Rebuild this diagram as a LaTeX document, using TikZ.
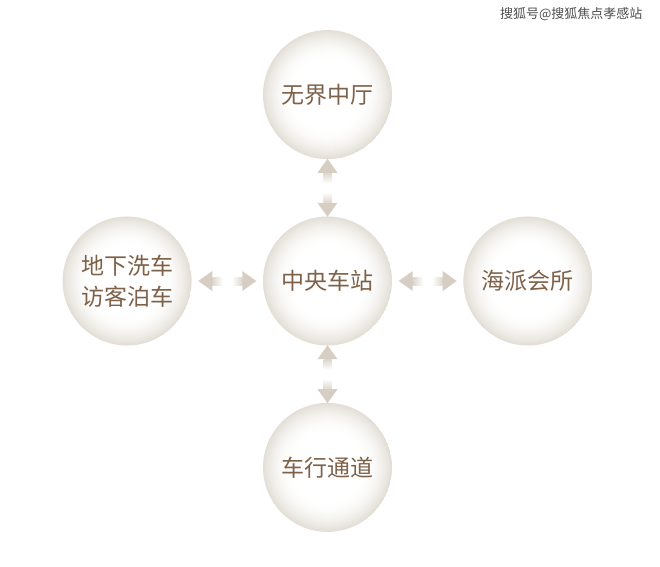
\documentclass[tikz,border=0pt]{standalone}
\usepackage{fontspec}
\newfontfamily\cjk{Noto Sans CJK SC}
\usetikzlibrary{positioning,calc}

\definecolor{ballrim}{HTML}{E3DED6}
\definecolor{arrowtan}{HTML}{D6CEC3}
\definecolor{textbrown}{HTML}{7E6149}
\definecolor{marktext}{HTML}{4D4D4D}

% half arrow from the gap middle #1 towards node border #2, shading angle #3
\newcommand{\fadearrow}[3]{%
  \coordinate (fa-t) at ($(#1)!4.5pt!(#2)$);
  \coordinate (fa-h) at ($(#1)!15pt!(#2)$);
  \coordinate (fa-p) at ($(#1)!29pt!(#2)$);
  \shade[top color=arrowtan!85, bottom color=white, shading angle=#3]
    ($(fa-t)!4pt!90:(fa-h)$) -- ($(fa-h)!4pt!-90:(fa-t)$)
    -- ($(fa-h)!4pt!90:(fa-t)$) -- ($(fa-t)!4pt!-90:(fa-h)$) -- cycle;
  \fill[arrowtan] ($(fa-h)!10pt!90:(fa-p)$) -- (fa-p) -- ($(fa-h)!10pt!-90:(fa-p)$) -- cycle;
}

\tikzset{
  ball/.style={circle, minimum size=129pt, inner sep=0pt,
    text=textbrown, align=center, font=\cjk\fontsize{23}{31}\selectfont,
    path picture={
      \foreach \k [evaluate=\k as \r using 64.5-\k,
                   evaluate=\k as \p using (30-\k)*(30-\k)/9] in {0,...,30}
        \fill[ballrim!\p!white] (path picture bounding box.center) circle (\r pt);
    }},
}

\begin{document}
\begin{tikzpicture}
  \useasboundingbox (0,0) rectangle (660pt,-566pt);

  \node[ball] (hub)               at (327.5pt,-281pt) {中央车站};
  \node[ball] (hall)  [above=57pt of hub]  {无界中厅};
  \node[ball] (drive) [below=57pt of hub]  {车行通道};
  \node[ball] (wash)  [left=71pt of hub]   {地下洗车\\访客泊车};
  \node[ball] (club)  [right=71pt of hub]  {海派会所};

  \coordinate (mt) at ($(hub.north)!0.5!(hall.south)$);
  \coordinate (mb) at ($(hub.south)!0.5!(drive.north)$);
  \coordinate (ml) at ($(hub.west)!0.5!(wash.east)$);
  \coordinate (mr) at ($(hub.east)!0.5!(club.west)$);

  \fadearrow{mt}{hall.south}{0}
  \fadearrow{mt}{hub.north}{180}
  \fadearrow{mb}{hub.south}{0}
  \fadearrow{mb}{drive.north}{180}
  \fadearrow{ml}{wash.east}{90}
  \fadearrow{ml}{hub.west}{270}
  \fadearrow{mr}{hub.east}{90}
  \fadearrow{mr}{club.west}{270}

  \node[font=\cjk\fontsize{13}{13}\selectfont, text=marktext, anchor=east] (mark)
    at (646pt,-14pt) {搜狐号@搜狐焦点孝感站};
\end{tikzpicture}
\end{document}
